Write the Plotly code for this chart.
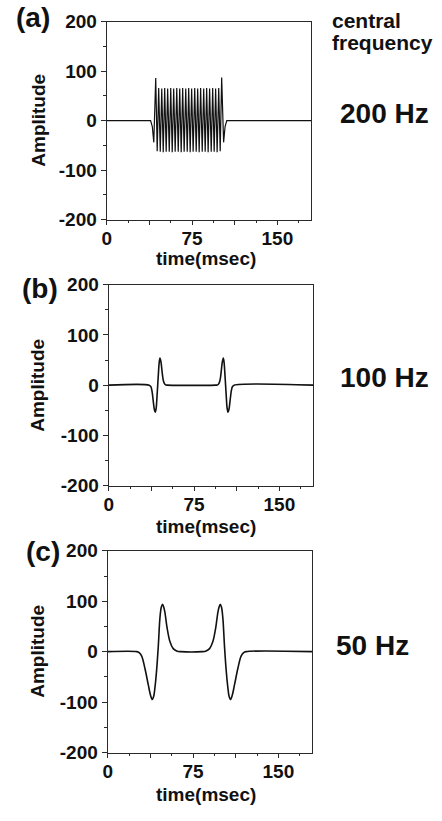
import plotly.graph_objects as go

W, H = 442, 821

# ---------------- data ----------------
# panel (a) 200 Hz : time (ms) and amplitude at each turning point of the burst
t_a = [0, 38.5, 40.0, 41.3, 43.0,
       44.3, 45.6, 47.0, 48.3, 49.6, 50.9, 52.2, 53.5, 54.9, 56.2, 57.5,
       58.8, 60.1, 61.5, 62.8, 64.1, 65.4, 66.7, 68.0, 69.4, 70.7, 72.0,
       73.3, 74.6, 75.9, 77.3, 78.6, 79.9, 81.2, 82.5, 83.9, 85.2, 86.5,
       87.8, 89.1, 90.4, 91.8, 93.1, 94.4, 95.7, 97.0, 98.4, 99.7,
       101.0, 102.7, 104.0, 105.5, 180]
amp_a = [0, 0, -12, -44, 86,
         -62, 66, -63, 65, -64, 66, -63, 65, -63, 66, -64,
         65, -63, 66, -63, 65, -64, 66, -63, 65, -63, 66,
         -64, 65, -63, 66, -63, 65, -64, 66, -63, 65, -63,
         66, -64, 65, -63, 66, -63, 65, -64, 66, -62,
         87, -44, -12, 0, 0]

# panel (b) 100 Hz
t_b = [0, 35.5, 37.0, 38.0, 39.0, 40.0, 40.9, 41.7, 42.4, 43.0, 43.6, 44.3,
       45.0, 45.9, 46.8, 47.7, 48.7, 50.0, 51.5,
       94.2, 95.7, 97.0, 98.0, 98.9, 99.8, 100.7, 101.4, 102.1, 102.7, 103.3,
       104.0, 104.8, 105.7, 106.7, 107.7, 108.7, 110.2, 180]
amp_b = [0, 0, -3, -12, -30, -48, -54, -45, -22, 0, 22, 45,
         54, 46, 28, 12, 4, 0.5, 0,
         0, 0.5, 4, 12, 28, 46, 54, 45, 22, 0, -22,
         -45, -54, -48, -30, -12, -3, 0, 0]

# panel (c) 50 Hz
t_c = [0, 25.5, 27.5, 29.8, 32.7, 35.6, 37.5, 39.1, 40.4, 41.5, 42.9, 44.4,
       45.8, 47.0, 48.1, 49.2, 50.2, 52.2, 54.6, 57.5, 61.0, 64.0,
       83.0, 86.0, 89.5, 92.4, 94.8, 96.8, 97.8, 98.9, 100.0, 101.2, 102.6,
       104.1, 105.5, 106.6, 107.9, 109.5, 111.4, 114.3, 117.2, 119.5, 121.5, 180]
amp_c = [0, 0, -2, -9, -34, -66, -86, -95, -88, -70, -37, 11,
         66, 88, 94, 88, 78, 46, 20, 6, 1, 0,
         0, 1, 6, 20, 46, 78, 88, 94, 88, 66, 11,
         -37, -70, -88, -95, -86, -66, -34, -9, -2, 0, 0]

panel_labels = ["(a)", "(b)", "(c)"]
freq_labels = ["200 Hz", "100 Hz", "50 Hz"]
y_ticks = [-200, -100, 0, 100, 200]
x_ticks = [0, 37.5, 75, 112.5, 150]
x_ticktext = ["0", "", "75", "", "150"]

# ---------------- layout helpers ----------------
def fx(px):
    return px / W

def fy(py):
    return 1 - py / H

FONT = "Liberation Sans, Arial, Helvetica, sans-serif"
INK = "#111111"

# plot boxes in pixels: (left, right, top, bottom)
boxes = [(103, 310, 12, 215), (105, 312, 282, 488), (104, 311, 555, 762)]
series = [(t_a, amp_a, "linear", 1.2), (t_b, amp_b, "spline", 1.6), (t_c, amp_c, "spline", 1.6)]

fig = go.Figure()
layout = dict(
    width=W, height=H, margin=dict(l=0, r=0, t=0, b=0),
    paper_bgcolor="white", plot_bgcolor="white", showlegend=False,
    font=dict(family=FONT, color=INK),
)

annotations = []
for i, ((l, r, t, b), (tx, ty, shape, lw)) in enumerate(zip(boxes, series)):
    n = "" if i == 0 else str(i + 1)
    line = dict(color=INK, width=lw, shape=shape)
    if shape == "spline":
        line["smoothing"] = 0.9
    fig.add_trace(go.Scatter(x=tx, y=ty, mode="lines", line=line,
                             xaxis="x" + n, yaxis="y" + n, hoverinfo="skip"))
    common = dict(showline=True, linecolor="#2a2a2a", linewidth=1.4, mirror=True,
                  showgrid=False, zeroline=False, ticks="outside",
                  tickcolor="#2a2a2a", tickwidth=1.3,
                  tickfont=dict(family=FONT, size=19, color=INK, weight="bold"))
    layout["xaxis" + n] = dict(
        common, domain=[fx(l), fx(r)], range=[0, 180], anchor="y" + n,
        tickmode="array", tickvals=x_ticks, ticktext=x_ticktext, ticklen=4,
        ticklabelstandoff=-3,
        minor=dict(tick0=0, dtick=18.75, ticks="outside", ticklen=2,
                   tickcolor="#2a2a2a", tickwidth=1),
    )
    layout["yaxis" + n] = dict(
        common, domain=[fy(b), fy(t)], range=[-200, 200], anchor="x" + n,
        tickmode="array", tickvals=y_ticks, ticktext=[str(v) for v in y_ticks],
        ticklen=5,
        minor=dict(tick0=-200, dtick=50, ticks="outside", ticklen=3,
                   tickcolor="#2a2a2a", tickwidth=1),
    )

def ann(text, x, y, size, xanchor="center", yanchor="middle", angle=0):
    annotations.append(dict(
        text=text, x=fx(x), y=fy(y), xref="paper", yref="paper",
        xanchor=xanchor, yanchor=yanchor, showarrow=False, textangle=angle,
        font=dict(family=FONT, size=size, color=INK, weight="bold"),
    ))

amp_y = [113, 385, 658]
time_y = [255, 530, 805]
plab_pos = [(28, 8), (35, 286), (38, 556)]
freq_pos = [(337, 106), (337, 377), (333, 652)]
for i in range(3):
    ann("Amplitude", 33, amp_y[i], 19, angle=-90)
    ann("time(msec)", 203, time_y[i], 19)
    ann(panel_labels[i], plab_pos[i][0], plab_pos[i][1], 28)
    ann(freq_labels[i], freq_pos[i][0], freq_pos[i][1], 28, xanchor="left")
ann("central", 329, 11, 21, xanchor="left")
ann("frequency", 329, 33, 21, xanchor="left")

layout["annotations"] = annotations
fig.update_layout(**layout)
fig.write_html("out.html")
